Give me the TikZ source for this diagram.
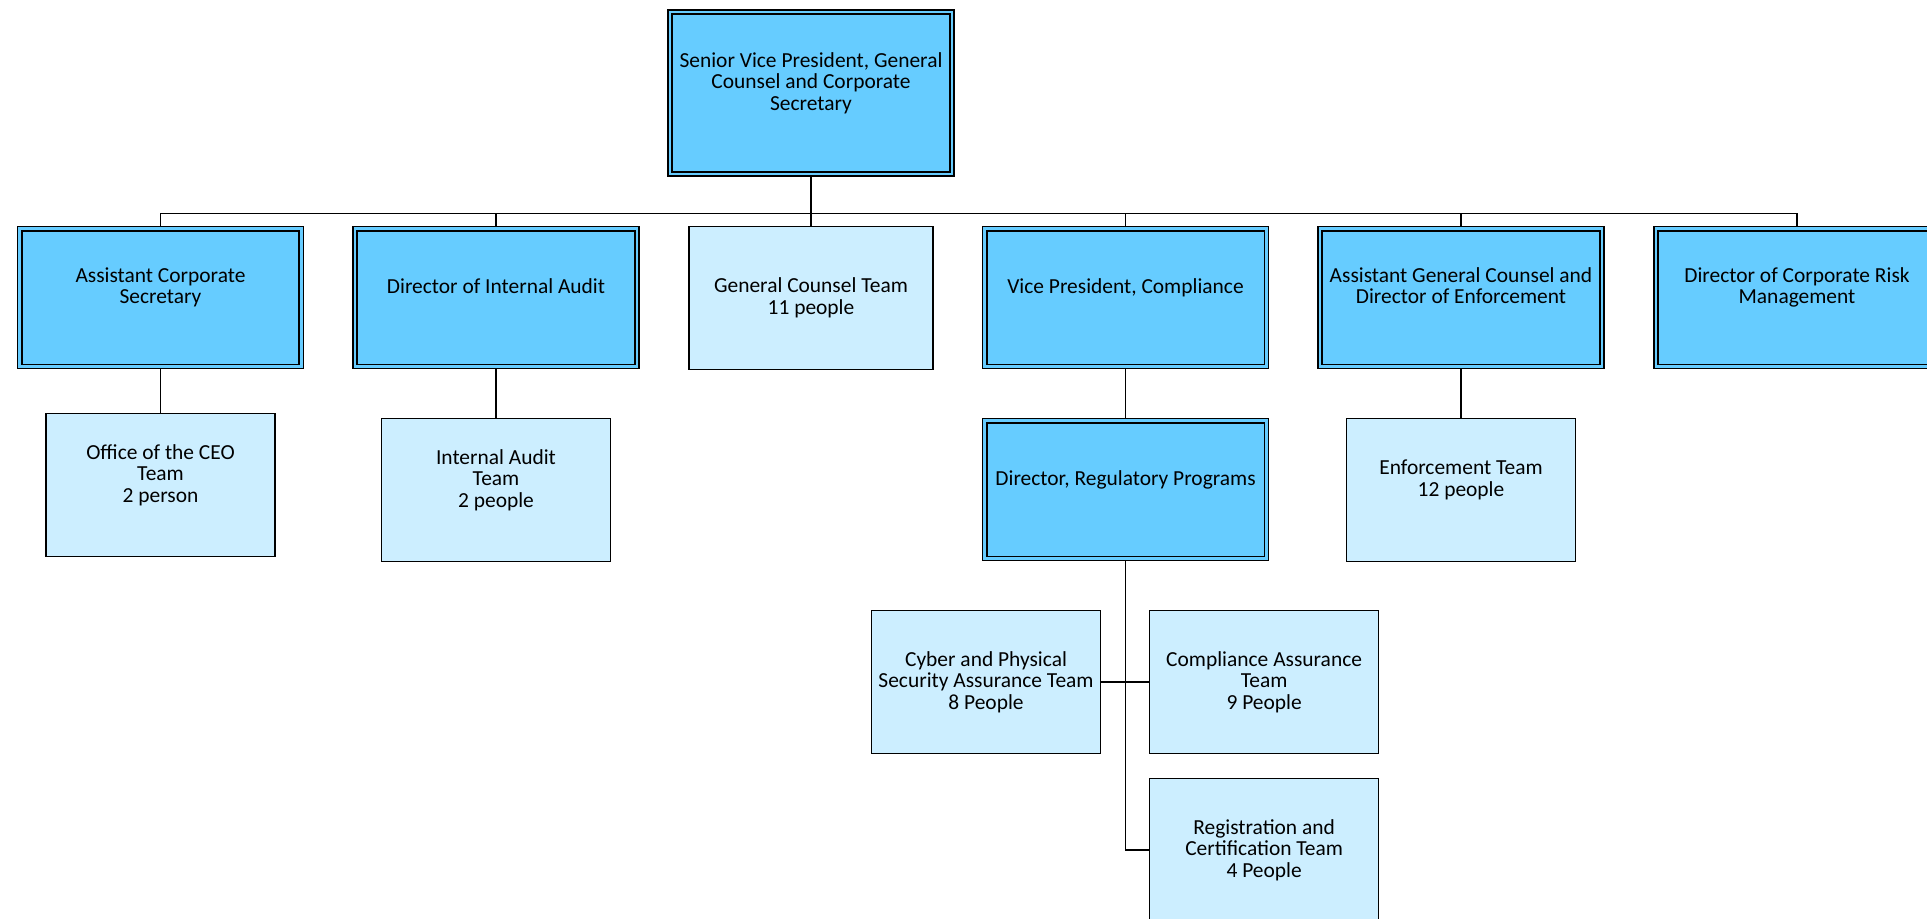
\documentclass[tikz,border=0pt]{standalone}
\usepackage{fontspec}
\setmainfont{Carlito}
\usetikzlibrary{positioning}

\definecolor{headblue}{HTML}{66CCFF}
\definecolor{teamblue}{HTML}{CCEEFF}

\begin{document}
\begin{tikzpicture}[x=0.02cm, y=-0.02cm, node distance=0.47cm,
    every node/.style={font=\fontsize{12.2}{12.2}\selectfont, align=center},
    lead/.style={rectangle, draw, line width=0.9pt, double=headblue, double distance=1.6pt,
                 fill=headblue, outer sep=1.7pt, minimum width=5.64cm, minimum height=2.76cm, lifted},
    team/.style={rectangle, draw, line width=0.95pt, fill=teamblue,
                 minimum width=4.58cm, minimum height=2.86cm},
    lifted/.style={execute at end node={\rule[-13.5pt]{0pt}{0pt}}},
    link/.style={line width=0.95pt}]

\useasboundingbox (0,0) rectangle (1927,919);

% head of the chart
\node[lead, minimum height=3.24cm] (svp) at (811,93) {Senior Vice President, General\\Counsel and Corporate\\Secretary};

% second row
\node[lead] (acs) at (160.5,297.5) {Assistant Corporate\\Secretary};
\node[lead] (dia) at (496,297.5) {Director of Internal Audit};
\node[team, minimum width=4.88cm] (gct) at (811,298) {General Counsel Team\\11 people};
\node[lead] (vpc) at (1125.5,297.5) {Vice President, Compliance};
\node[lead] (agc) at (1461,297.5) {Assistant General Counsel and\\Director of Enforcement};
\node[lead] (dcrm) at (1797,297.5) {Director of Corporate Risk\\Management};

% third row
\node[team, lifted] (oceo) at (160.5,485) {Office of the CEO\\Team\\2 person};
\node[team, lifted] (iat) at (496,490) {Internal Audit\\Team\\2 people};
\node[lead] (drp) at (1125.5,489.5) {Director, Regulatory Programs};
\node[team, lifted] (ent) at (1461,490) {Enforcement Team\\12 people};

% regulatory programs teams
\node[team] (cpsa) at (986,682) {Cyber and Physical\\Security Assurance Team\\8 People};
\node[team] (cat) [right=0.95cm of cpsa] {Compliance Assurance\\Team\\9 People};
\node[team] (rct) [below=of cat] {Registration and\\Certification Team\\4 People};

\coordinate (bus) at (811,213.5);
\draw[link] (svp) -- (bus);
\foreach \n in {acs,dia,gct,vpc,agc,dcrm}
  \draw[link] (bus) -| (\n);

\draw[link] (acs) -- (oceo);
\draw[link] (dia) -- (iat);
\draw[link] (vpc) -- (drp);
\draw[link] (agc) -- (ent);
\draw[link] (drp) |- (rct);
\draw[link] (cpsa) -- (cat);
\end{tikzpicture}
\end{document}
